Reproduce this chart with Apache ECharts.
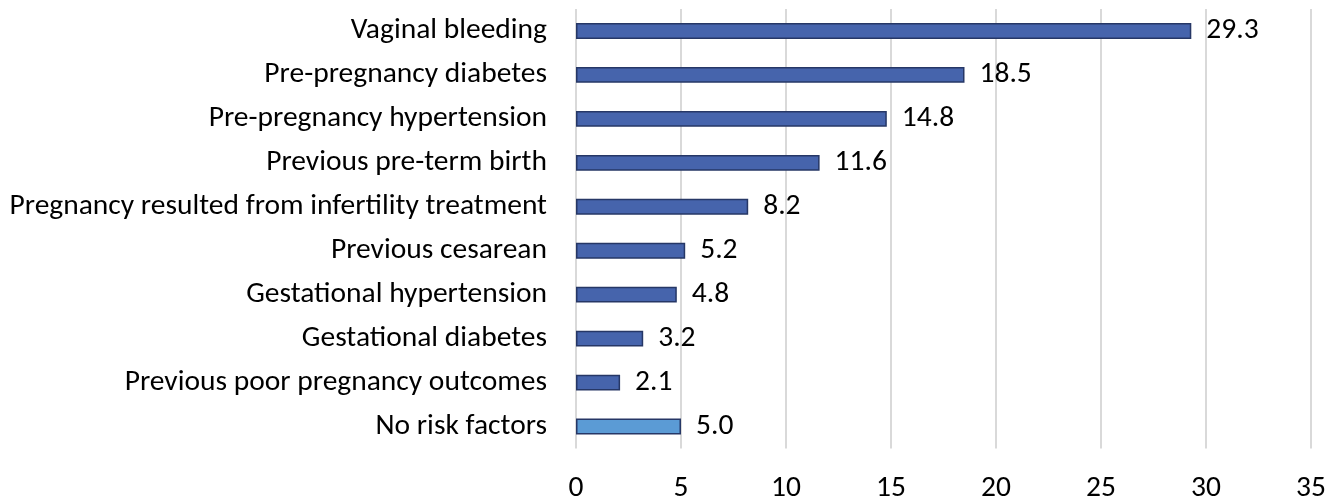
<!DOCTYPE html>
<html><head><meta charset="utf-8">
<script src="https://cdn.jsdelivr.net/npm/echarts@6/dist/echarts.min.js"></script>
<style>html,body{margin:0;padding:0;background:#fff}#c{width:1338px;height:497px}</style>
</head><body><div id="c"></div>
<script>
const categories = ["Vaginal bleeding","Pre-pregnancy diabetes","Pre-pregnancy hypertension","Previous pre-term birth","Pregnancy resulted from infertility treatment","Previous cesarean","Gestational hypertension","Gestational diabetes","Previous poor pregnancy outcomes","No risk factors"];
const values = [29.3,18.5,14.8,11.6,8.2,5.2,4.8,3.2,2.1,5.0];
const xTicks = [0,5,10,15,20,25,30,35];

const FONT = '"Liberation Sans Narrow", Carlito, "Open Sans", sans-serif';
const chart = echarts.init(document.getElementById('c'), null, {renderer:'canvas'});
chart.setOption({
  animation:false,
  grid:{left:576,right:27,top:9,bottom:48.5,containLabel:false,outerBoundsMode:'none'},
  xAxis:{type:'value',min:0,max:35,interval:5,
    axisLine:{show:false},axisTick:{show:false},
    splitLine:{show:true,lineStyle:{color:'#D9D9D9',width:2}},
    axisLabel:{margin:25.5,fontSize:29.5,color:'#000',fontFamily:FONT,
      formatter:v=>xTicks.includes(v)?String(v):''}},
  yAxis:{type:'category',inverse:true,data:categories,
    axisLine:{show:false},axisTick:{show:false},
    axisLabel:{margin:29,fontSize:29.5,color:'#000',fontFamily:FONT}},
  series:[{type:'bar',barWidth:'36%',
    data:values.map((v,i)=>({value:v,itemStyle:{color:i===values.length-1?'#5B9BD5':'#4664AC'}})),
    itemStyle:{borderColor:'#263766',borderWidth:1.5},
    label:{show:true,position:'right',distance:15,fontSize:29.5,color:'#000',fontFamily:FONT,padding:[0,0,4,0],
      formatter:p=>p.value.toFixed(1)}}]
});
</script></body></html>
